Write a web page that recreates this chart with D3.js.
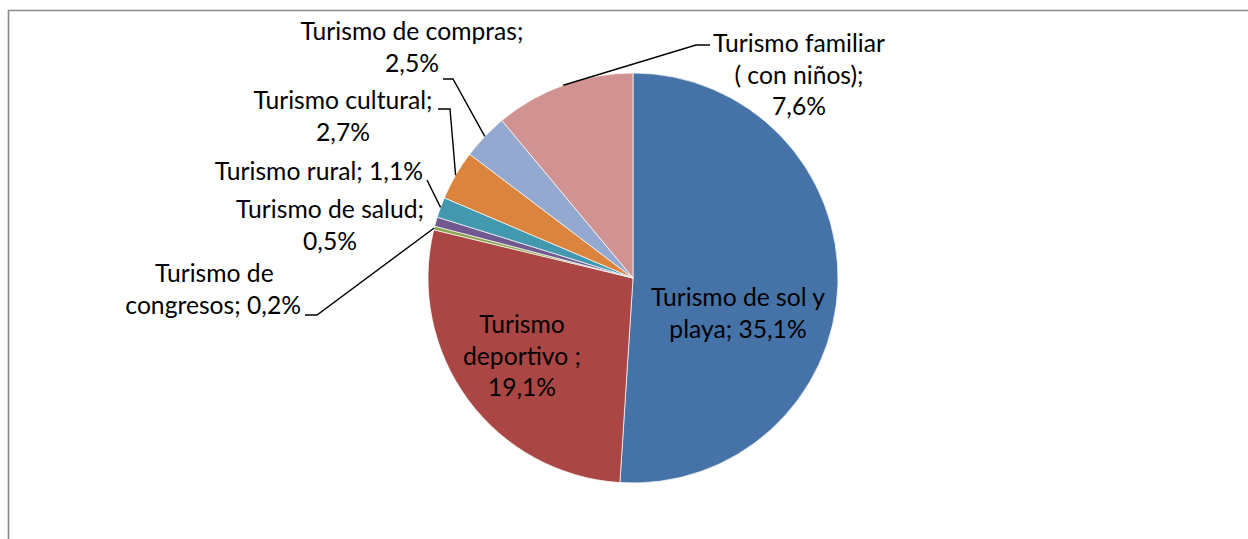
<!DOCTYPE html>
<html>
<head>
<meta charset="utf-8">
<script src="https://cdn.jsdelivr.net/npm/d3@7"></script>
<style>
  body { margin: 0; background: #fff; }
  svg { display: block; }
</style>
</head>
<body>
<div id="chart"></div>
<script>
// Data (clockwise from 12 o'clock)
let categories = ['Turismo de sol y playa', 'Turismo deportivo', 'Turismo de congresos', 'Turismo de salud',
    'Turismo rural', 'Turismo cultural', 'Turismo de compras', 'Turismo familiar ( con niños)'];
let values = [35.1, 19.1, 0.2, 0.5, 1.1, 2.7, 2.5, 7.6];
let labelTexts = [
    ['Turismo de sol y', 'playa; 35,1%'],
    ['Turismo', 'deportivo ;', '19,1%'],
    ['Turismo de', 'congresos; 0,2%'],
    ['Turismo de salud;', '0,5%'],
    ['Turismo rural; 1,1%'],
    ['Turismo cultural;', '2,7%'],
    ['Turismo de compras;', '2,5%'],
    ['Turismo familiar', '( con niños);', '7,6%']
];
let colors = ['#4572A7', '#AA4643', '#89A54E', '#71588F', '#4198AF', '#DB843D', '#93A9CF', '#D19392'];

// Layout
let svgWidth = 1248;
let svgHeight = 539;
let center = {x: 633, y: 278};
let radius = 205;
let fontSize = 26;
let lineHeight = 31.5;

// Label placement (x per line, first baseline, anchor per line) and leader bend points
let labelPos = [
    {x: [738], y: 306, anchor: ['middle'], leader: null},
    {x: [522], y: 333, anchor: ['middle'], leader: null},
    {x: [155, 301], y: 282, anchor: ['start', 'end'], leader: [[305, 315], [317, 315]]},
    {x: [330], y: 218, anchor: ['middle'], leader: null},
    {x: [423], y: 180, anchor: ['end'], leader: [[427, 180]]},
    {x: [343], y: 109, anchor: ['middle'], leader: [[438, 109], [450, 109]]},
    {x: [412], y: 40, anchor: ['middle'], leader: [[443, 79], [453, 79]]},
    {x: [799], y: 52, anchor: ['middle'], leader: [[710, 45], [696, 45]]}
];

let svg = d3.select('#chart').append('svg')
    .attr('width', svgWidth)
    .attr('height', svgHeight);

// Chart frame (cut off at right and bottom in the reference)
svg.append('path')
    .attr('d', `M8.5,${svgHeight + 2} V10.5 H${svgWidth + 2}`)
    .attr('fill', 'none')
    .attr('stroke', '#888888')
    .attr('stroke-width', 1.6);

let pie = d3.pie().sort(null).value(d => d)(values);
let arc = d3.arc().innerRadius(0).outerRadius(radius);
let edge = d3.arc().innerRadius(radius).outerRadius(radius);

let chart = svg.append('g')
    .attr('transform', `translate(${center.x}, ${center.y})`);

chart.selectAll('path.slice')
    .data(pie).enter()
    .append('path')
    .attr('class', 'slice')
    .attr('d', arc)
    .attr('fill', (d, i) => colors[i])
    .attr('stroke', '#ffffff')
    .attr('stroke-width', 0.7);

// Leader lines: from label bend points to the slice edge at mid angle
let line = d3.line();
pie.forEach((d, i) => {
    let lp = labelPos[i];
    if (!lp.leader) return;
    let p = edge.centroid(d);
    let pts = lp.leader.concat([[p[0] + center.x, p[1] + center.y]]);
    svg.append('path')
        .attr('d', line(pts))
        .attr('fill', 'none')
        .attr('stroke', '#000')
        .attr('stroke-width', 1.4);
});

// Labels
let fontFamily = 'Lato, "Open Sans", sans-serif';
let probe = svg.append('text')
    .style('font-family', fontFamily)
    .style('font-size', `${fontSize}px`)
    .text('Turismo familiar');
// squeeze the fallback font to the narrow widths seen in the reference
let squeeze = Math.min(1, 172 / probe.node().getComputedTextLength());
probe.remove();

labelTexts.forEach((lines, i) => {
    let lp = labelPos[i];
    lines.forEach((txt, j) => {
        let x = lp.x[Math.min(j, lp.x.length - 1)];
        let anchor = lp.anchor[Math.min(j, lp.anchor.length - 1)];
        svg.append('text')
            .attr('transform', `translate(${x}, ${lp.y + j * lineHeight}) scale(${squeeze}, 1)`)
            .attr('text-anchor', anchor)
            .style('font-family', fontFamily)
            .style('font-size', `${fontSize}px`)
            .attr('fill', '#000')
            .text(txt);
    });
});
</script>
</body>
</html>
